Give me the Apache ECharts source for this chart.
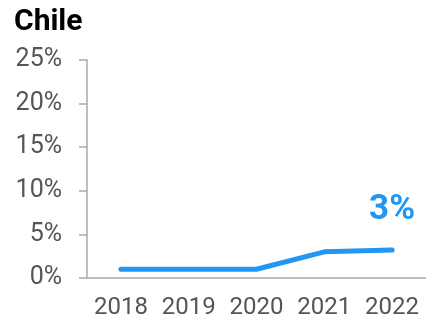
<!DOCTYPE html>
<html>
<head>
<meta charset="utf-8">
<script src="https://cdn.jsdelivr.net/npm/echarts@6/dist/echarts.min.js"></script>
<style>
  html, body { margin: 0; padding: 0; background: #fff; }
  #chart { width: 426px; height: 321px; }
</style>
</head>
<body>
<div id="chart"></div>
<script>
// Share by year, in percent
const years = ['2018', '2019', '2020', '2021', '2022'];
const shares = [1.0, 1.0, 1.0, 3.0, 3.2];
const yTicks = [0, 5, 10, 15, 20, 25];

const blue = '#2196F3';
const chart = echarts.init(document.getElementById('chart'), null, { renderer: 'canvas' });

chart.setOption({
  animation: false,
  title: {
    text: 'Chile',
    left: 9,
    top: 2,
    textStyle: { fontFamily: 'Roboto', fontWeight: 'bold', fontSize: 30, color: '#000' }
  },
  grid: { left: 87, right: 0, top: 60, bottom: 43 },
  xAxis: {
    type: 'category',
    data: years,
    boundaryGap: true,
    axisLine: { lineStyle: { color: '#aaaaaa', width: 1.5 } },
    axisTick: { show: false },
    axisLabel: { interval: 0, hideOverlap: false, fontFamily: 'Roboto', fontSize: 24, color: '#555', margin: 18 }
  },
  yAxis: {
    type: 'value',
    min: yTicks[0],
    max: yTicks[yTicks.length - 1],
    interval: 5,
    splitLine: { show: false },
    axisLine: { show: true, lineStyle: { color: '#aaaaaa', width: 1.5 } },
    axisTick: { show: true, length: 8, lineStyle: { color: '#aaaaaa', width: 1.5 } },
    axisLabel: { fontFamily: 'Roboto', fontSize: 25, color: '#555', margin: 25, formatter: v => v + '%' }
  },
  series: [{
    type: 'line',
    data: shares.map((v, i) => ({
      value: v,
      label: i === shares.length - 1 ? {
        show: true,
        position: 'top',
        distance: 22,
        formatter: p => Math.round(p.value) + '%',
        fontFamily: 'Roboto',
        fontWeight: 'bold',
        fontSize: 35,
        color: blue
      } : { show: false }
    })),
    showSymbol: true,
    symbol: 'circle',
    symbolSize: 0,
    itemStyle: { color: blue },
    lineStyle: { color: blue, width: 5, cap: 'round', join: 'round' }
  }]
});
</script>
</body>
</html>
